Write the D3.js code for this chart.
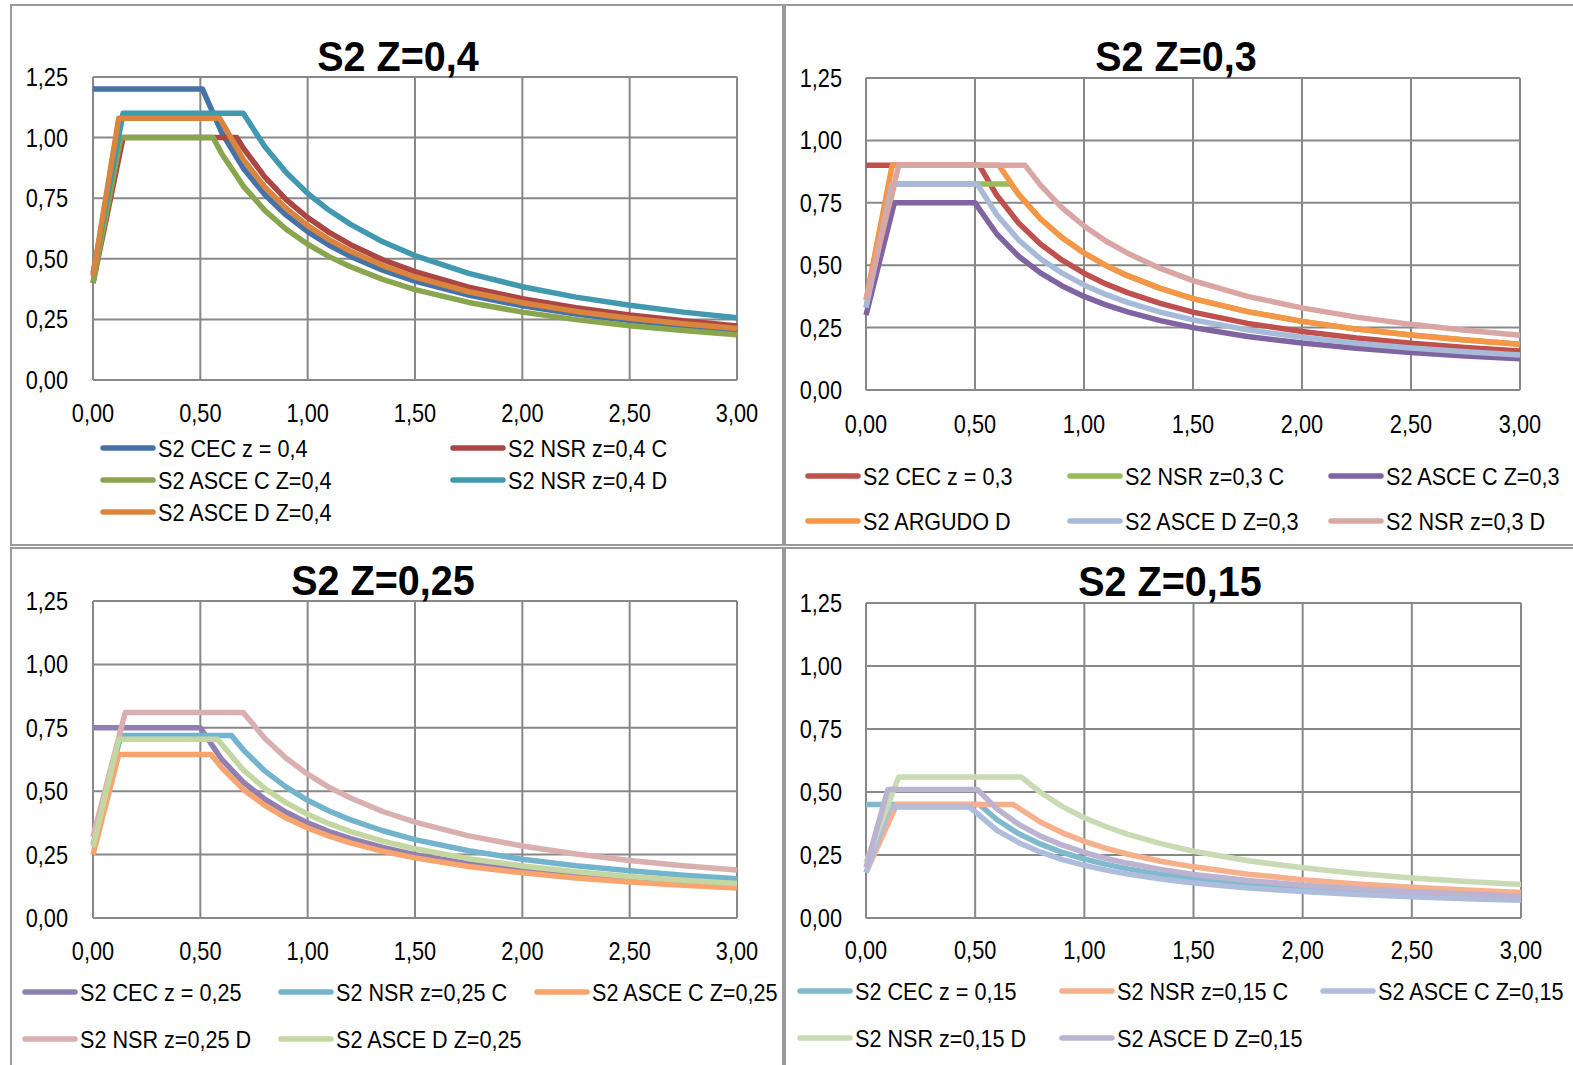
<!DOCTYPE html>
<html>
<head>
<meta charset="utf-8">
<script src="https://cdn.jsdelivr.net/npm/d3@7"></script>
<style>
  html, body { margin: 0; padding: 0; background: #fff; }
  svg { display: block; }
  text { font-family: "Liberation Sans Narrow", "Liberation Sans", Arial, sans-serif; fill: #000; }
</style>
</head>
<body>
<div id="chart"></div>
<script>
// ---- data: [period T (s), Sa (g)] ----

// panel S2 Z=0,4
const cec040 = [[0,1.2],[0.51,1.2],[0.6,1.02],[0.7,0.874],[0.8,0.765],[0.9,0.68],[1.0,0.612],[1.1,0.556],[1.2,0.51],[1.35,0.453],[1.5,0.408],[1.75,0.35],[2.0,0.306],[2.25,0.272],[2.5,0.245],[2.75,0.223],[3.0,0.204]];
const nsrC040 = [[0,0.4],[0.14,1.0],[0.67,1.0],[0.7,0.957],[0.8,0.838],[0.9,0.744],[1.0,0.67],[1.1,0.609],[1.2,0.558],[1.35,0.496],[1.5,0.447],[1.75,0.383],[2.0,0.335],[2.25,0.298],[2.5,0.268],[2.75,0.244],[3.0,0.223]];
const asceC040 = [[0,0.4],[0.13,1.0],[0.56,1.0],[0.6,0.933],[0.7,0.8],[0.8,0.7],[0.9,0.622],[1.0,0.56],[1.1,0.509],[1.2,0.467],[1.35,0.415],[1.5,0.373],[1.75,0.32],[2.0,0.28],[2.25,0.249],[2.5,0.224],[2.75,0.204],[3.0,0.187]];
const nsrD040 = [[0,0.44],[0.14,1.1],[0.7,1.1],[0.8,0.963],[0.9,0.856],[1.0,0.77],[1.1,0.7],[1.2,0.642],[1.35,0.57],[1.5,0.513],[1.75,0.44],[2.0,0.385],[2.25,0.342],[2.5,0.308],[2.75,0.28],[3.0,0.257]];
const asceD040 = [[0,0.43],[0.12,1.08],[0.59,1.08],[0.7,0.91],[0.8,0.796],[0.9,0.708],[1.0,0.637],[1.1,0.579],[1.2,0.531],[1.35,0.472],[1.5,0.425],[1.75,0.364],[2.0,0.319],[2.25,0.283],[2.5,0.255],[2.75,0.232],[3.0,0.212]];
const names040 = ["S2 CEC z = 0,4", "S2 NSR z=0,4 C", "S2 ASCE C Z=0,4", "S2 NSR z=0,4 D", "S2 ASCE D Z=0,4"];

// panel S2 Z=0,3
const cec030 = [[0,0.9],[0.52,0.9],[0.6,0.78],[0.7,0.669],[0.8,0.585],[0.9,0.52],[1.0,0.468],[1.1,0.425],[1.2,0.39],[1.35,0.347],[1.5,0.312],[1.75,0.267],[2.0,0.234],[2.25,0.208],[2.5,0.187],[2.75,0.17],[3.0,0.156]];
const nsrC030 = [[0,0.33],[0.13,0.825],[0.665,0.825],[0.7,0.784],[0.8,0.686],[0.9,0.61],[1.0,0.549],[1.1,0.499],[1.2,0.458],[1.35,0.407],[1.5,0.366],[1.75,0.314],[2.0,0.275],[2.25,0.244],[2.5,0.22],[2.75,0.2],[3.0,0.183]];
const asceC030 = [[0,0.3],[0.13,0.75],[0.5,0.75],[0.6,0.625],[0.7,0.536],[0.8,0.469],[0.9,0.417],[1.0,0.375],[1.1,0.341],[1.2,0.313],[1.35,0.278],[1.5,0.25],[1.75,0.214],[2.0,0.188],[2.25,0.167],[2.5,0.15],[2.75,0.136],[3.0,0.125]];
const argudoD030 = [[0,0.36],[0.12,0.9],[0.61,0.9],[0.7,0.784],[0.8,0.686],[0.9,0.61],[1.0,0.549],[1.1,0.499],[1.2,0.458],[1.35,0.407],[1.5,0.366],[1.75,0.314],[2.0,0.275],[2.25,0.244],[2.5,0.22],[2.75,0.2],[3.0,0.183]];
const asceD030 = [[0,0.33],[0.12,0.825],[0.51,0.825],[0.6,0.702],[0.7,0.601],[0.8,0.526],[0.9,0.468],[1.0,0.421],[1.1,0.383],[1.2,0.351],[1.35,0.312],[1.5,0.281],[1.75,0.241],[2.0,0.211],[2.25,0.187],[2.5,0.168],[2.75,0.153],[3.0,0.14]];
const nsrD030 = [[0,0.36],[0.15,0.9],[0.73,0.9],[0.8,0.821],[0.9,0.73],[1.0,0.657],[1.1,0.597],[1.2,0.548],[1.35,0.487],[1.5,0.438],[1.75,0.375],[2.0,0.329],[2.25,0.292],[2.5,0.263],[2.75,0.239],[3.0,0.219]];
const names030 = ["S2 CEC z = 0,3", "S2 NSR z=0,3 C", "S2 ASCE C Z=0,3", "S2 ARGUDO D", "S2 ASCE D Z=0,3", "S2 NSR z=0,3 D"];

// panel S2 Z=0,25
const cec025 = [[0,0.75],[0.5,0.75],[0.6,0.625],[0.7,0.536],[0.8,0.469],[0.9,0.417],[1.0,0.375],[1.1,0.341],[1.2,0.313],[1.35,0.278],[1.5,0.25],[1.75,0.214],[2.0,0.188],[2.25,0.167],[2.5,0.15],[2.75,0.136],[3.0,0.125]];
const nsrC025 = [[0,0.29],[0.13,0.72],[0.645,0.72],[0.7,0.663],[0.8,0.58],[0.9,0.516],[1.0,0.464],[1.1,0.422],[1.2,0.387],[1.35,0.344],[1.5,0.309],[1.75,0.265],[2.0,0.232],[2.25,0.206],[2.5,0.186],[2.75,0.169],[3.0,0.155]];
const asceC025 = [[0,0.25],[0.12,0.645],[0.55,0.645],[0.6,0.592],[0.7,0.507],[0.8,0.444],[0.9,0.394],[1.0,0.355],[1.1,0.323],[1.2,0.296],[1.35,0.263],[1.5,0.237],[1.75,0.203],[2.0,0.178],[2.25,0.158],[2.5,0.142],[2.75,0.129],[3.0,0.118]];
const nsrD025 = [[0,0.32],[0.15,0.81],[0.7,0.81],[0.8,0.709],[0.9,0.63],[1.0,0.567],[1.1,0.515],[1.2,0.473],[1.35,0.42],[1.5,0.378],[1.75,0.324],[2.0,0.284],[2.25,0.252],[2.5,0.227],[2.75,0.206],[3.0,0.189]];
const asceD025 = [[0,0.28],[0.12,0.705],[0.58,0.705],[0.7,0.584],[0.8,0.511],[0.9,0.454],[1.0,0.409],[1.1,0.372],[1.2,0.341],[1.35,0.303],[1.5,0.273],[1.75,0.234],[2.0,0.205],[2.25,0.182],[2.5,0.164],[2.75,0.149],[3.0,0.136]];
const names025 = ["S2 CEC z = 0,25", "S2 NSR z=0,25 C", "S2 ASCE C Z=0,25", "S2 NSR z=0,25 D", "S2 ASCE D Z=0,25"];

// panel S2 Z=0,15
const cec015 = [[0,0.45],[0.52,0.45],[0.6,0.39],[0.7,0.334],[0.8,0.293],[0.9,0.26],[1.0,0.234],[1.1,0.213],[1.2,0.195],[1.35,0.173],[1.5,0.156],[1.75,0.134],[2.0,0.117],[2.25,0.104],[2.5,0.094],[2.75,0.085],[3.0,0.078]];
const nsrC015 = [[0,0.18],[0.14,0.45],[0.675,0.45],[0.8,0.38],[0.9,0.338],[1.0,0.304],[1.1,0.276],[1.2,0.253],[1.35,0.225],[1.5,0.203],[1.75,0.174],[2.0,0.152],[2.25,0.135],[2.5,0.122],[2.75,0.111],[3.0,0.101]];
const asceC015 = [[0,0.18],[0.11,0.44],[0.475,0.44],[0.6,0.348],[0.7,0.299],[0.8,0.261],[0.9,0.232],[1.0,0.209],[1.1,0.19],[1.2,0.174],[1.35,0.155],[1.5,0.139],[1.75,0.119],[2.0,0.105],[2.25,0.093],[2.5,0.084],[2.75,0.076],[3.0,0.07]];
const nsrD015 = [[0,0.22],[0.15,0.56],[0.71,0.56],[0.8,0.498],[0.9,0.442],[1.0,0.398],[1.1,0.362],[1.2,0.332],[1.35,0.295],[1.5,0.265],[1.75,0.227],[2.0,0.199],[2.25,0.177],[2.5,0.159],[2.75,0.145],[3.0,0.133]];
const asceD015 = [[0,0.2],[0.1,0.51],[0.51,0.51],[0.6,0.433],[0.7,0.371],[0.8,0.325],[0.9,0.289],[1.0,0.26],[1.1,0.236],[1.2,0.217],[1.35,0.193],[1.5,0.173],[1.75,0.149],[2.0,0.13],[2.25,0.116],[2.5,0.104],[2.75,0.095],[3.0,0.087]];
const names015 = ["S2 CEC z = 0,15", "S2 NSR z=0,15 C", "S2 ASCE C Z=0,15", "S2 NSR z=0,15 D", "S2 ASCE D Z=0,15"];

// axis ticks
const xTicks = [0, 0.5, 1.0, 1.5, 2.0, 2.5, 3.0];
const yTicks = [0, 0.25, 0.5, 0.75, 1.0, 1.25];
const titles = ["S2 Z=0,4", "S2 Z=0,3", "S2 Z=0,25", "S2 Z=0,15"];

// colours
const colors040 = ["#4572A7", "#AA4643", "#89A54E", "#4198AF", "#DB843D"];
const colors030 = ["#C0504D", "#9BBB59", "#8064A2", "#F79646", "#A7BADA", "#D9A6A4"];
const colors025 = ["#9080B2", "#72B4CD", "#F9A46F", "#D9B0AF", "#C4D6A2"];
const colors015 = ["#80BACF", "#F7B08C", "#AFBDDC", "#C9DAB4", "#BCB3D1"];

// ---- layout ----
const width = 1573, height = 1065;
const fmt = d => d.toFixed(2).replace(".", ",");
// the reference font is condensed, so squeeze text horizontally
const squeeze = 0.87;

const panels = [
  { title: titles[0], tx: 398, ty: 71, frame: [11, 5, 772, 540],
    x0: 93, x1: 737, y0: 77, y1: 380, xl: 422, yr: 68,
    series: [cec040, nsrC040, asceC040, nsrD040, asceD040], names: names040, colors: colors040,
    legend: { cols: [100, 450], rows: [448, 480, 512], ncol: 2 } },
  { title: titles[1], tx: 1176, ty: 71, frame: [785, 5, 790, 540],
    x0: 866, x1: 1520, y0: 78, y1: 390, xl: 433, yr: 842,
    series: [cec030, nsrC030, asceC030, argudoD030, asceD030, nsrD030], names: names030, colors: colors030,
    legend: { cols: [805, 1067, 1328], rows: [476, 521], ncol: 3 } },
  { title: titles[2], tx: 383, ty: 595, frame: [11, 548, 772, 522],
    x0: 93, x1: 737, y0: 601, y1: 918, xl: 960, yr: 68,
    series: [cec025, nsrC025, asceC025, nsrD025, asceD025], names: names025, colors: colors025,
    legend: { cols: [22, 278, 534], rows: [992, 1039], ncol: 3 } },
  { title: titles[3], tx: 1170, ty: 596, frame: [785, 548, 790, 522],
    x0: 866, x1: 1521, y0: 603, y1: 918, xl: 959, yr: 842,
    series: [cec015, nsrC015, asceC015, nsrD015, asceD015], names: names015, colors: colors015,
    legend: { cols: [797, 1059, 1320], rows: [991, 1038], ncol: 3 } }
];

const svg = d3.select("#chart")
  .append("svg")
  .attr("width", width)
  .attr("height", height);

// place a horizontally condensed text label
function label(parent, x, y, str, size, anchor, bold, sx) {
  parent.append("text")
    .attr("transform", `translate(${x},${y}) scale(${sx || squeeze},1)`)
    .attr("text-anchor", anchor || "start")
    .style("font-size", size + "px")
    .style("font-weight", bold ? "bold" : "normal")
    .text(str);
}

panels.forEach(function(p) {
  const g = svg.append("g");

  // panel frame
  g.append("rect")
    .attr("x", p.frame[0]).attr("y", p.frame[1])
    .attr("width", p.frame[2]).attr("height", p.frame[3])
    .attr("fill", "none")
    .attr("stroke", "#9a9a9a")
    .attr("stroke-width", 2);

  const x = d3.scaleLinear().domain([0, 3]).range([p.x0, p.x1]);
  const y = d3.scaleLinear().domain([0, 1.25]).range([p.y1, p.y0]);

  // grid
  g.append("g")
    .selectAll("line")
    .data(yTicks)
    .enter().append("line")
    .attr("x1", p.x0).attr("x2", p.x1)
    .attr("y1", d => y(d)).attr("y2", d => y(d))
    .attr("stroke", "#888").attr("stroke-width", 2);

  g.append("g")
    .selectAll("line")
    .data(xTicks)
    .enter().append("line")
    .attr("x1", d => x(d)).attr("x2", d => x(d))
    .attr("y1", p.y0).attr("y2", p.y1)
    .attr("stroke", "#888").attr("stroke-width", 2);

  // tick labels
  const yl = g.append("g");
  yTicks.forEach(d => label(yl, p.yr, y(d) + 9, fmt(d), 25, "end"));
  const xlab = g.append("g");
  xTicks.forEach(d => label(xlab, x(d), p.xl, fmt(d), 25, "middle"));

  // title
  label(g, p.tx, p.ty, p.title, 43, "middle", true, 0.92);

  // series lines
  const line = d3.line()
    .x(d => x(d[0]))
    .y(d => y(d[1]));

  g.append("g")
    .selectAll("path")
    .data(p.series)
    .enter().append("path")
    .attr("d", line)
    .attr("fill", "none")
    .attr("stroke", (d, i) => p.colors[i])
    .attr("stroke-width", 5.5)
    .attr("stroke-linejoin", "round");

  // legend
  const leg = g.append("g")
    .selectAll("g")
    .data(p.names)
    .enter().append("g")
    .attr("transform", (d, i) => `translate(${p.legend.cols[i % p.legend.ncol]}, ${p.legend.rows[Math.floor(i / p.legend.ncol)]})`);

  leg.append("line")
    .attr("x1", 3).attr("x2", 53)
    .attr("y1", 0).attr("y2", 0)
    .attr("stroke", (d, i) => p.colors[i])
    .attr("stroke-width", 5.5)
    .attr("stroke-linecap", "round");

  leg.each(function(d) {
    label(d3.select(this), 58, 9, d, 24, "start", false, 0.9);
  });
});
</script>
</body>
</html>
